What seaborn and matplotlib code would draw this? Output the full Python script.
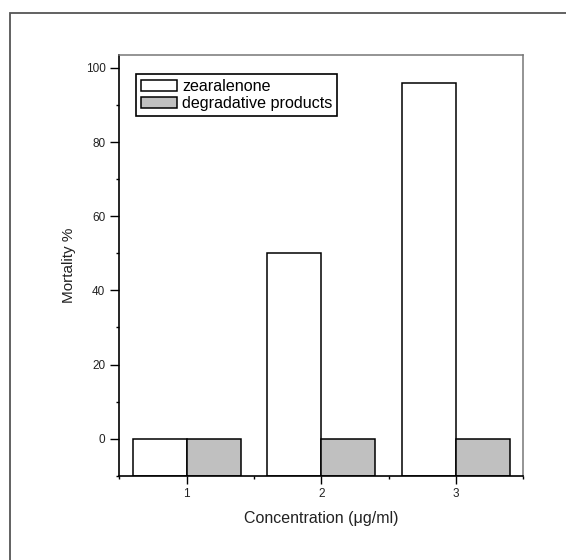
import matplotlib
matplotlib.use("Agg")
import matplotlib.pyplot as plt
import matplotlib.patches as mpatches
from matplotlib.ticker import MultipleLocator, FixedLocator
import pandas as pd
import seaborn as sns

concentrations = ["1", "2", "3"]
zearalenone = [0, 50, 96]
degradative = [0, 0, 0]
series_names = ["zearalenone", "degradative products"]
baseline = -10

df = pd.DataFrame({
    "conc": concentrations * 2,
    "mortality": zearalenone + degradative,
    "series": [series_names[0]] * 3 + [series_names[1]] * 3,
})
# bars in the original are drawn up from the bottom of the axis
df["height"] = df["mortality"] - baseline

plt.rcParams["font.family"] = ["Liberation Sans", "DejaVu Sans"]

fig = plt.figure(figsize=(5.66, 5.60), dpi=100)
ax = fig.add_axes([0.2108, 0.1505, 0.7138, 0.752])

sns.barplot(data=df, x="conc", y="height", hue="series", ax=ax,
            palette={series_names[0]: "white", series_names[1]: "#c0c0c0"},
            saturation=1, errorbar=None, edgecolor="black", linewidth=1.1,
            bottom=baseline, width=0.8, legend=False)

ax.set_xlim(-0.5, 2.5)
ax.set_ylim(baseline, 103.6)
ax.yaxis.set_major_locator(MultipleLocator(20))
ax.yaxis.set_minor_locator(MultipleLocator(10))
ax.xaxis.set_minor_locator(FixedLocator([-0.5, 0.5, 1.5, 2.5]))

ax.tick_params(axis="both", which="major", direction="out", length=5.5, width=1,
               labelsize=8.5, colors="black", labelcolor="#222222")
ax.tick_params(axis="y", which="major", length=6.5)
ax.tick_params(axis="both", which="minor", direction="out", length=2.5, width=1)

ax.set_xlabel("Concentration (\u03bcg/ml)", fontsize=11.5, color="#222222", labelpad=8)
ax.set_ylabel("Mortality %", fontsize=11, color="#222222", labelpad=7)

for side in ["left", "bottom"]:
    ax.spines[side].set_color("black")
    ax.spines[side].set_linewidth(1.2)
for side in ["top", "right"]:
    ax.spines[side].set_color("#777777")
    ax.spines[side].set_linewidth(1.1)

leg = ax.legend(ax.containers, series_names, loc="upper left",
                bbox_to_anchor=(0.042, 0.953),
                borderaxespad=0, fontsize=11.6, frameon=True, fancybox=False,
                framealpha=1, edgecolor="black", handlelength=2.2,
                handleheight=0.72, handletextpad=0.35, labelspacing=0.12,
                borderpad=0.3)
leg.get_frame().set_linewidth(1.2)

# outer frame of the original picture, cut off at right and bottom
fig.add_artist(mpatches.Rectangle((9.5 / 566, -0.1), 1.2, 0.9773 + 0.1,
                                  transform=fig.transFigure, fill=False,
                                  edgecolor="#555555", linewidth=1.3))

fig.savefig("out.png", dpi=100, facecolor="white")
